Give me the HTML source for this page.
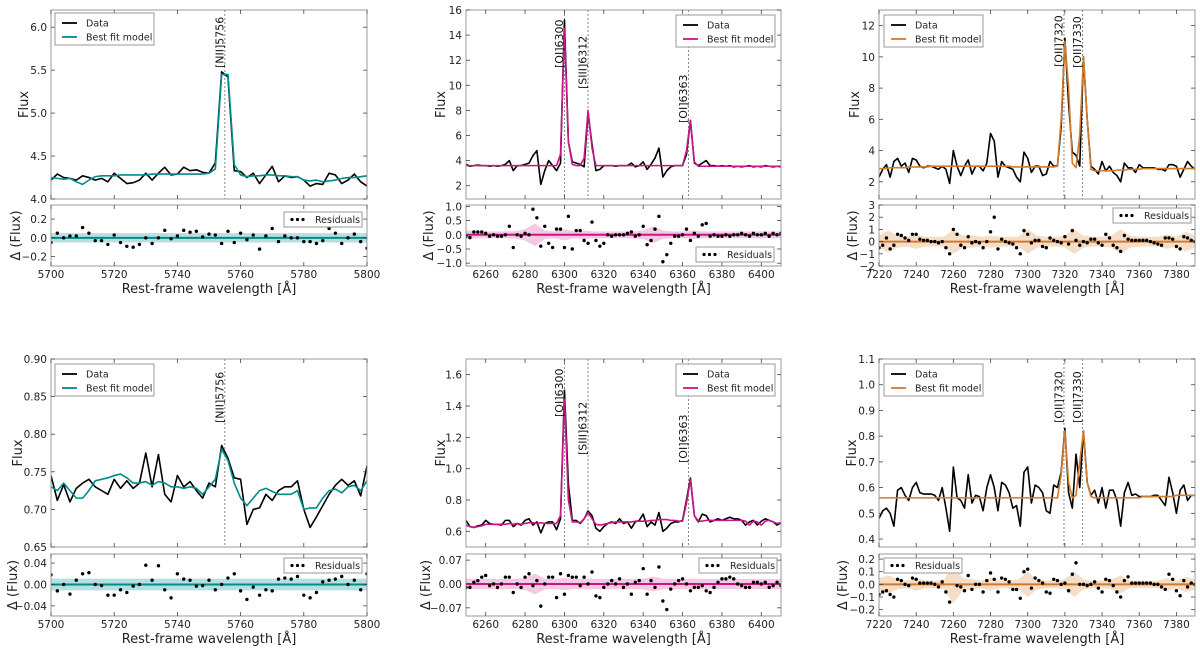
<!DOCTYPE html>
<html><head><meta charset="utf-8"><style>
html,body{margin:0;padding:0;background:#fff;width:1200px;height:648px;overflow:hidden}
svg{display:block;font-family:"DejaVu Sans","Liberation Sans",sans-serif}
</style></head><body>
<svg id="fig" width="1200" height="648" viewBox="0 0 1200 648" xmlns="http://www.w3.org/2000/svg"></svg>
<script>
// ---------- DATA ----------
const p1Data=[4.22,4.29,4.25,4.24,4.22,4.27,4.25,4.22,4.24,4.20,4.30,4.24,4.18,4.19,4.22,4.30,4.22,4.30,4.37,4.28,4.29,4.37,4.33,4.34,4.31,4.30,4.42,5.48,5.42,4.33,4.32,4.25,4.30,4.18,4.28,4.38,4.20,4.27,4.25,4.26,4.22,4.15,4.18,4.17,4.30,4.28,4.18,4.22,4.29,4.20,4.15];
const p1Model=[4.25,4.24,4.23,4.24,4.20,4.17,4.22,4.26,4.27,4.27,4.27,4.28,4.28,4.28,4.28,4.28,4.29,4.29,4.29,4.29,4.29,4.29,4.29,4.29,4.29,4.30,4.35,5.45,5.45,4.40,4.28,4.26,4.27,4.27,4.28,4.28,4.27,4.27,4.26,4.26,4.22,4.21,4.22,4.20,4.21,4.22,4.24,4.25,4.25,4.26,4.27];
const p1Resid=[-0.05,0.05,0.0,0.02,0.02,0.11,0.05,-0.03,-0.03,-0.07,0.03,-0.05,-0.09,-0.1,-0.07,0.0,-0.06,0.0,0.08,-0.01,0.02,0.08,0.06,0.07,0.01,0.04,0.03,-0.06,0.07,-0.05,0.05,-0.02,0.03,-0.12,0.02,0.1,-0.04,0.02,0.0,0.0,-0.04,-0.04,-0.06,-0.03,0.1,0.05,-0.06,0.0,0.04,-0.04,-0.11];
const p1Band=[0.05,0.05,0.05,0.05,0.05,0.05,0.05,0.05,0.05,0.05,0.05];

const p2Data=[3.7,3.55,3.6,3.65,3.6,3.6,3.55,3.6,3.55,3.6,3.7,4.0,3.2,3.6,3.6,3.7,3.8,4.4,4.8,2.1,3.2,4.0,3.6,3.2,3.8,15.2,5.5,3.9,3.8,3.7,3.5,7.8,5.3,3.2,3.3,3.6,3.6,3.6,3.55,3.6,3.6,3.6,3.8,3.5,3.6,3.9,3.3,3.7,4.2,5.0,2.7,3.2,3.5,3.6,3.6,3.6,4.5,7.2,3.8,3.6,3.8,4.0,3.6,3.6,3.55,3.6,3.55,3.6,3.5,3.55,3.5,3.55,3.6,3.5,3.55,3.5,3.6,3.55,3.5,3.55,3.5];
const p2Model=[3.6,3.6,3.6,3.6,3.6,3.6,3.6,3.6,3.6,3.6,3.6,3.6,3.6,3.6,3.6,3.6,3.6,3.6,3.6,3.6,3.6,3.6,3.6,3.6,4.5,14.5,5.5,3.7,3.6,3.6,4.2,8.0,5.0,3.6,3.6,3.6,3.6,3.6,3.6,3.6,3.6,3.6,3.6,3.6,3.6,3.6,3.6,3.6,3.6,3.6,3.6,3.6,3.6,3.6,3.6,3.6,4.8,7.2,3.9,3.55,3.55,3.55,3.55,3.55,3.55,3.55,3.55,3.55,3.55,3.55,3.55,3.55,3.55,3.55,3.55,3.55,3.55,3.55,3.55,3.55,3.55];
const p2Resid=[-0.05,-0.1,0.1,0.1,0.1,0.05,-0.05,0.0,-0.05,-0.05,0.0,0.3,-0.45,0.0,-0.05,0.05,0.0,0.9,0.6,-0.4,0.3,-0.3,-0.45,0.2,0.2,-0.45,0.65,-0.5,0.15,0.15,-0.2,-0.3,0.45,-0.2,-0.4,-0.3,0.0,-0.05,0.0,0.0,0.0,0.05,0.1,-0.05,0.0,0.3,-0.35,-0.2,0.2,0.65,-0.95,-0.7,-0.3,-0.05,-0.05,0.0,0.2,-0.2,0.05,-0.05,0.35,0.4,-0.05,0.0,-0.05,-0.05,0.0,-0.05,0.0,0.0,0.05,0.0,-0.05,0.05,0.0,0.0,0.05,-0.05,0.05,0.0,0.05];
const p2Band=[0.15,0.13,0.12,0.12,0.12,0.13,0.2,0.4,0.15,0.12,0.2,0.12,0.15,0.12,0.12,0.12,0.12,0.12,0.15,0.3,0.15,0.12,0.12,0.15,0.12,0.12,0.12,0.12,0.12,0.12,0.12,0.12,0.12];

const p3Data=[2.3,2.8,3.1,2.3,3.3,3.5,3.0,3.2,2.6,3.5,3.4,3.0,2.9,3.0,3.0,2.9,2.8,3.0,2.8,1.9,4.0,3.0,2.4,3.0,3.4,2.5,3.0,3.0,2.7,3.2,5.1,4.6,2.3,3.3,3.0,2.9,2.8,2.3,2.0,3.9,3.5,2.6,3.0,3.0,2.4,2.5,3.3,3.0,3.0,5.5,11.2,7.0,3.9,3.7,3.0,10.0,6.0,3.0,2.8,2.5,3.3,2.7,3.0,2.6,2.4,2.0,3.2,2.9,2.9,2.6,3.1,2.9,2.9,2.9,2.9,2.8,2.8,2.7,3.1,3.1,3.0,2.3,2.8,3.3,3.0,2.8];
const p3Model=[2.85,2.85,2.85,2.9,2.9,2.9,2.9,2.9,2.95,2.95,2.95,2.95,2.95,2.95,3.0,3.0,3.0,3.0,3.0,3.0,3.0,3.0,3.0,3.0,3.0,3.0,3.0,3.0,3.0,3.0,3.0,3.0,3.0,3.0,3.0,3.0,2.95,2.95,2.95,2.95,2.95,2.95,2.95,2.95,2.95,2.95,2.95,2.95,3.0,6.0,11.0,8.0,3.2,2.9,5.0,10.0,6.0,2.8,2.7,2.7,2.7,2.7,2.7,2.7,2.75,2.75,2.75,2.8,2.8,2.8,2.8,2.85,2.85,2.85,2.85,2.85,2.85,2.85,2.85,2.85,2.85,2.85,2.85,2.85,2.85,2.85];
const p3Resid=[-0.5,-0.3,0.3,-0.6,-0.3,0.6,0.5,0.3,0.1,0.6,0.6,0.2,0.1,0.1,0.0,0.0,-0.1,0.0,-0.5,-1.0,1.0,0.6,-0.3,-0.5,0.4,-0.1,0.0,-0.1,-0.5,0.0,0.8,2.0,-0.6,0.2,0.0,-0.1,-0.2,-0.5,-1.0,0.9,0.6,-0.1,0.1,0.1,-0.4,-0.5,0.3,0.1,0.0,-0.1,0.4,-0.2,0.9,0.1,-0.3,0.0,-0.1,0.2,0.2,-0.1,-0.3,0.6,0.3,-0.3,-0.5,-0.8,0.5,0.2,0.1,0.1,0.1,0.1,0.1,0.0,-0.1,-0.2,-0.3,0.3,0.3,0.2,-0.4,-0.6,0.4,0.3,0.1,0.0];
const p3Band=[0.5,0.9,0.5,0.4,0.6,0.4,0.4,0.4,1.0,0.5,0.5,0.4,0.5,0.4,0.4,0.4,1.0,0.5,0.4,0.4,0.5,1.0,0.5,0.4,0.4,0.5,1.0,0.5,0.4,0.4,0.4,0.6,0.4,0.8,0.5];

const p4Data=[0.745,0.712,0.733,0.71,0.728,0.735,0.74,0.73,0.725,0.72,0.74,0.728,0.738,0.728,0.735,0.775,0.73,0.773,0.72,0.71,0.745,0.73,0.737,0.725,0.715,0.735,0.73,0.785,0.768,0.742,0.74,0.68,0.70,0.702,0.72,0.712,0.725,0.73,0.73,0.738,0.70,0.676,0.69,0.705,0.72,0.732,0.74,0.732,0.738,0.718,0.758];
const p4Model=[0.73,0.725,0.735,0.725,0.715,0.715,0.725,0.738,0.74,0.742,0.745,0.747,0.742,0.735,0.735,0.737,0.732,0.737,0.735,0.73,0.73,0.728,0.73,0.728,0.72,0.73,0.74,0.78,0.765,0.735,0.715,0.705,0.715,0.725,0.728,0.724,0.72,0.72,0.72,0.725,0.70,0.702,0.702,0.715,0.725,0.727,0.722,0.73,0.732,0.725,0.738];
const p4Resid=[0.018,-0.012,0.0,-0.018,0.008,0.02,0.022,0.0,-0.002,-0.02,-0.02,-0.01,-0.015,-0.003,0.0,0.036,0.008,0.035,-0.01,-0.025,0.02,0.01,0.008,-0.003,-0.002,0.008,-0.01,0.0,0.012,0.02,-0.012,-0.028,-0.005,-0.02,-0.01,-0.012,0.01,0.012,0.01,0.015,-0.02,-0.025,-0.015,0.005,0.008,0.01,0.015,0.0,0.008,-0.01,0.02];
const p4Band=[0.011,0.011,0.011,0.011,0.011,0.011,0.011,0.011,0.011,0.011,0.011];

const p5Data=[0.67,0.63,0.625,0.635,0.64,0.67,0.65,0.645,0.645,0.64,0.67,0.67,0.63,0.65,0.64,0.67,0.68,0.64,0.66,0.59,0.65,0.66,0.66,0.61,0.68,1.50,0.90,0.67,0.67,0.65,0.68,0.73,0.70,0.62,0.60,0.63,0.65,0.66,0.65,0.68,0.65,0.66,0.62,0.66,0.67,0.71,0.63,0.66,0.64,0.72,0.60,0.62,0.65,0.66,0.66,0.67,0.80,0.94,0.70,0.66,0.71,0.70,0.66,0.67,0.68,0.67,0.68,0.69,0.68,0.68,0.67,0.64,0.66,0.67,0.64,0.665,0.68,0.67,0.66,0.64,0.655];
const p5Model=[0.64,0.63,0.625,0.63,0.635,0.645,0.645,0.645,0.645,0.645,0.645,0.65,0.645,0.65,0.645,0.65,0.655,0.655,0.65,0.655,0.65,0.65,0.65,0.65,0.70,1.45,0.80,0.66,0.66,0.655,0.68,0.72,0.68,0.645,0.64,0.645,0.65,0.655,0.66,0.66,0.66,0.66,0.66,0.665,0.665,0.665,0.665,0.67,0.67,0.675,0.675,0.675,0.67,0.67,0.665,0.665,0.78,0.93,0.70,0.665,0.665,0.67,0.67,0.67,0.67,0.67,0.67,0.67,0.67,0.67,0.67,0.665,0.64,0.665,0.66,0.64,0.665,0.67,0.66,0.65,0.655];
const p5Resid=[-0.01,-0.01,0.005,0.01,0.02,0.025,-0.005,0.0,-0.01,0.0,0.02,0.02,-0.025,0.0,-0.01,0.02,0.03,-0.005,0.01,-0.065,0.0,0.02,0.02,-0.04,0.03,-0.03,0.025,0.02,0.02,-0.005,0.02,0.0,0.035,-0.035,-0.04,-0.01,0.0,0.01,0.0,0.015,-0.01,0.0,-0.03,0.005,0.01,0.045,-0.03,0.01,-0.01,0.05,-0.05,-0.075,-0.015,0.0,0.01,0.015,0.0,-0.02,-0.01,-0.01,-0.005,-0.02,-0.025,-0.01,0.005,0.015,0.015,0.02,0.015,0.0,-0.005,-0.01,-0.01,0.005,0.005,0.0,0.005,-0.01,-0.005,0.005,-0.005];
const p5Band=[0.016,0.015,0.015,0.015,0.015,0.015,0.018,0.03,0.016,0.015,0.018,0.015,0.016,0.015,0.015,0.015,0.015,0.015,0.016,0.022,0.016,0.015,0.015,0.016,0.015,0.015,0.015,0.015,0.015,0.015,0.015,0.015,0.015];

const p6Data=[0.48,0.51,0.52,0.50,0.45,0.59,0.60,0.57,0.55,0.60,0.62,0.58,0.575,0.575,0.575,0.57,0.55,0.60,0.52,0.43,0.68,0.56,0.55,0.52,0.65,0.54,0.57,0.565,0.51,0.60,0.65,0.60,0.51,0.62,0.61,0.58,0.52,0.53,0.45,0.66,0.68,0.54,0.61,0.60,0.58,0.51,0.50,0.61,0.60,0.66,0.83,0.58,0.52,0.73,0.60,0.82,0.62,0.57,0.59,0.54,0.60,0.52,0.59,0.59,0.55,0.45,0.58,0.62,0.57,0.575,0.565,0.565,0.565,0.565,0.57,0.57,0.55,0.53,0.64,0.58,0.50,0.59,0.61,0.55,0.57,0.57];
const p6Model=[0.56,0.56,0.56,0.56,0.56,0.56,0.56,0.56,0.56,0.56,0.56,0.56,0.56,0.56,0.56,0.56,0.56,0.56,0.56,0.56,0.56,0.56,0.56,0.56,0.56,0.56,0.56,0.56,0.56,0.56,0.56,0.56,0.56,0.56,0.56,0.56,0.56,0.56,0.56,0.56,0.56,0.56,0.56,0.56,0.56,0.56,0.56,0.56,0.56,0.65,0.82,0.62,0.56,0.57,0.70,0.82,0.62,0.565,0.56,0.56,0.56,0.56,0.56,0.56,0.56,0.56,0.56,0.56,0.56,0.56,0.56,0.565,0.565,0.565,0.565,0.565,0.565,0.565,0.565,0.565,0.57,0.57,0.57,0.57,0.57,0.57];
const p6Resid=[-0.08,-0.06,-0.05,-0.08,-0.1,0.04,0.03,0.0,-0.01,0.05,0.04,0.01,0.01,0.01,0.01,0.0,-0.02,0.02,-0.06,-0.14,0.1,-0.01,-0.02,-0.05,0.07,-0.04,0.0,0.0,-0.06,0.03,0.09,0.04,-0.06,0.05,0.04,0.02,-0.04,-0.04,-0.11,0.1,0.12,-0.03,0.05,0.03,0.01,-0.06,-0.07,0.04,0.03,0.0,0.01,-0.05,0.08,0.17,0.0,0.0,-0.01,0.0,0.02,-0.03,-0.06,0.04,0.03,-0.01,-0.06,-0.1,0.03,0.06,0.01,0.01,0.01,0.01,0.01,0.01,0.0,0.0,-0.02,-0.04,0.08,0.04,-0.05,-0.09,0.03,-0.02,0.01,0.0];
const p6Band=[0.05,0.07,0.04,0.03,0.05,0.03,0.03,0.04,0.15,0.05,0.04,0.03,0.05,0.03,0.03,0.04,0.1,0.04,0.03,0.03,0.04,0.1,0.04,0.03,0.03,0.04,0.07,0.03,0.03,0.03,0.03,0.05,0.03,0.06,0.04];

const lines12=[{name:"[NII]5756",w:5755}];
const lines25=[{name:"[OI]6300",w:6300},{name:"[SIII]6312",w:6312},{name:"[OI]6363",w:6363}];
const lines36=[{name:"[OII]7320",w:7319.5},{name:"[OII]7330",w:7329.5}];

const xt1=[5700,5720,5740,5760,5780,5800];
const xt2=[6260,6280,6300,6320,6340,6360,6380,6400];
const xt3=[7220,7240,7260,7280,7300,7320,7340,7360,7380];

// ---------- LAYOUT ----------
const NS="http://www.w3.org/2000/svg";
const svg=document.getElementById('fig');
function mk(tag,attrs,parent){const e=document.createElementNS(NS,tag);for(const k in attrs)e.setAttribute(k,attrs[k]);(parent||svg).appendChild(e);return e;}
function fmt(v,d){const s=Math.abs(v).toFixed(d);return (v<-1e-9?"\u2212":"")+s;}

const panels=[
 {id:"p1",x0:51,x1:367,m:[10,199],r:[205,266],wx:[5700,5800],step:2,ylim:[4.0,6.2],yt:[4.0,4.5,5.0,5.5,6.0],yd:1,rlim:[-0.3,0.35],rt:[-0.2,0,0.2],rd:1,bandStep:10,xt:xt1,col:"#008b8b",band:"#9fd4d4",data:p1Data,model:p1Model,res:p1Resid,bw:p1Band,lines:lines12,lb:[68],leg:[55,13],rleg:[284,212],fX:28,rX:20},
 {id:"p2",x0:466,x1:781,m:[10,199],r:[205,266],wx:[6250,6410],step:2,ylim:[0.94,16],yt:[2,4,6,8,10,12,14,16],yd:0,rlim:[-1.1,1.05],rt:[-1,-0.5,0,0.5,1],rd:1,bandStep:5,xt:xt2,col:"#cc1488",band:"#f0b8d8",data:p2Data,model:p2Model,res:p2Resid,bw:p2Band,lines:lines25,lb:[68,89,123],leg:[676,15],rleg:[696,247],fX:445,rX:433},
 {id:"p3",x0:879,x1:1195,m:[10,199],r:[205,266],wx:[7220,7390],step:2,ylim:[0.9,13],yt:[2,4,6,8,10,12],yd:0,rlim:[-2,3],rt:[-2,-1,0,1,2,3],rd:0,bandStep:5,xt:xt3,col:"#d27a2c",band:"#f1d3b6",data:p3Data,model:p3Model,res:p3Resid,bw:p3Band,lines:lines36,lb:[67,68],leg:[884,15],rleg:[1113,208],fX:859,rX:857},
 {id:"p4",x0:51,x1:367,m:[359,547],r:[554,616],wx:[5700,5800],step:2,ylim:[0.65,0.90],yt:[0.65,0.70,0.75,0.80,0.85,0.90],yd:2,rlim:[-0.059,0.057],rt:[-0.04,0,0.04],rd:2,bandStep:10,xt:xt1,col:"#008b8b",band:"#9fd4d4",data:p4Data,model:p4Model,res:p4Resid,bw:p4Band,lines:lines12,lb:[423],leg:[55,364],rleg:[284,558],fX:22,rX:17},
 {id:"p5",x0:466,x1:781,m:[359,547],r:[554,616],wx:[6250,6410],step:2,ylim:[0.5,1.70],yt:[0.6,0.8,1.0,1.2,1.4,1.6],yd:1,rlim:[-0.094,0.088],rt:[-0.07,0,0.07],rd:2,bandStep:5,xt:xt2,col:"#cc1488",band:"#f0b8d8",data:p5Data,model:p5Model,res:p5Resid,bw:p5Band,lines:lines25,lb:[417,455,463],leg:[676,364],rleg:[699,558],fX:445,rX:430},
 {id:"p6",x0:879,x1:1195,m:[359,547],r:[554,616],wx:[7220,7390],step:2,ylim:[0.369,1.1],yt:[0.4,0.5,0.6,0.7,0.8,0.9,1.0,1.1],yd:1,rlim:[-0.25,0.24],rt:[-0.2,-0.1,0,0.1,0.2],rd:1,bandStep:5,xt:xt3,col:"#d27a2c",band:"#f1d3b6",data:p6Data,model:p6Model,res:p6Resid,bw:p6Band,lines:lines36,lb:[423,423],leg:[884,364],rleg:[884,558],fX:856,rX:847}
];

const TF=10.5;
function ticks(g,P,yr,lim,vals,dec,xTicks){
  const sy=v=>yr[1]-(v-lim[0])/(lim[1]-lim[0])*(yr[1]-yr[0]);
  vals.forEach(v=>{const y=sy(v);
    mk('line',{x1:P.x0,x2:P.x0+4,y1:y,y2:y,stroke:"#444","stroke-width":0.8},g);
    mk('line',{x1:P.x1,x2:P.x1-4,y1:y,y2:y,stroke:"#444","stroke-width":0.8},g);
    const t=mk('text',{x:P.x0-4,y:y+4,"text-anchor":"end","font-size":TF,fill:"#222"},g);t.textContent=fmt(v,dec);
  });
  xTicks.forEach(w=>{const x=P.sx(w);
    mk('line',{x1:x,x2:x,y1:yr[1],y2:yr[1]-4,stroke:"#444","stroke-width":0.8},g);
    mk('line',{x1:x,x2:x,y1:yr[0],y2:yr[0]+4,stroke:"#444","stroke-width":0.8},g);
  });
}

panels.forEach(P=>{
  P.sx=w=>P.x0+(w-P.wx[0])/(P.wx[1]-P.wx[0])*(P.x1-P.x0);
  const sy=v=>P.m[1]-(v-P.ylim[0])/(P.ylim[1]-P.ylim[0])*(P.m[1]-P.m[0]);
  const sr=v=>P.r[1]-(v-P.rlim[0])/(P.rlim[1]-P.rlim[0])*(P.r[1]-P.r[0]);
  const g=mk('g',{});
  
  
  const clipM='cm'+P.id, clipR='cr'+P.id;
  const defs=mk('defs',{},g);
  const c1=mk('clipPath',{id:clipM},defs);mk('rect',{x:P.x0,y:P.m[0],width:P.x1-P.x0,height:P.m[1]-P.m[0]},c1);
  const c2=mk('clipPath',{id:clipR},defs);mk('rect',{x:P.x0,y:P.r[0],width:P.x1-P.x0,height:P.r[1]-P.r[0]},c2);

  const mg=mk('g',{"clip-path":`url(#${clipM})`},g);
  
  
  P.lines.forEach(L=>{const x=P.sx(L.w);
    const dl=mk('line',{x1:x,x2:x,y1:P.m[0],y2:P.m[1],stroke:"#888","stroke-width":1,"stroke-dasharray":"2,2"},mg);
    
    
  });
  const path=(arr,f)=>arr.map((v,i)=>(i?'L':'M')+P.sx(P.wx[0]+i*P.step).toFixed(2)+','+f(v).toFixed(2)).join('');
  const dp=mk('path',{d:path(P.data,sy),fill:"none",stroke:"#000","stroke-width":1.6,"stroke-linejoin":"round"},mg);
  
  
  const mp=mk('path',{d:path(P.model,sy),fill:"none",stroke:P.col,"stroke-width":1.6,"stroke-linejoin":"round"},mg);
  
  

  const rg=mk('g',{"clip-path":`url(#${clipR})`},g);
  
  
  const up=P.bw.map((b,i)=>P.sx(P.wx[0]+i*P.bandStep).toFixed(2)+','+sr(b).toFixed(2));
  const dn=P.bw.map((b,i)=>P.sx(P.wx[0]+i*P.bandStep).toFixed(2)+','+sr(-b).toFixed(2)).reverse();
  const bp=mk('polygon',{points:up.concat(dn).join(' '),fill:P.band,"fill-opacity":0.75},rg);
  
  
  const zl=mk('line',{x1:P.x0,x2:P.x1,y1:sr(0),y2:sr(0),stroke:P.col,"stroke-width":2},rg);
  
  
  P.res.forEach((v,i)=>{const c=mk('circle',{cx:P.sx(P.wx[0]+i*P.step),cy:sr(v),r:1.7,fill:"#000"},rg);
    
    });

  mk('rect',{x:P.x0,y:P.m[0],width:P.x1-P.x0,height:P.m[1]-P.m[0],fill:"none",stroke:"#999","stroke-width":1},g);
  mk('rect',{x:P.x0,y:P.r[0],width:P.x1-P.x0,height:P.r[1]-P.r[0],fill:"none",stroke:"#999","stroke-width":1},g);
  ticks(g,P,P.m,P.ylim,P.yt,P.yd,P.xt);
  ticks(g,P,P.r,P.rlim,P.rt,P.rd,P.xt);
  P.xt.forEach(w=>{const t=mk('text',{x:P.sx(w),y:P.r[1]+12,"text-anchor":"middle","font-size":TF,fill:"#222"},g);t.textContent=w;
    });

  const xl=mk('text',{x:(P.x0+P.x1)/2,y:P.r[1]+27,"text-anchor":"middle","font-size":13,fill:"#222"},g);
  xl.textContent="Rest-frame wavelength [Å]";
  
  const yl=mk('text',{transform:`translate(${P.fX},${(P.m[0]+P.m[1])/2}) rotate(-90)`,"text-anchor":"middle","font-size":13,fill:"#222"},g);
  yl.textContent="Flux";
  
  const rl=mk('text',{transform:`translate(${P.rX},${(P.r[0]+P.r[1])/2}) rotate(-90)`,"text-anchor":"middle","font-size":13,fill:"#222"},g);
  rl.textContent="Δ (Flux)";
  

  P.lines.forEach((L,k)=>{const x=P.sx(L.w);
    const t=mk('text',{transform:`translate(${x-1.5},${P.lb[k]}) rotate(-90)`,"font-size":11,fill:"#111"},g);
    t.textContent=L.name;
    });

  const lg=mk('g',{},g);
  
  const [lx,ly]=P.leg;
  mk('rect',{x:lx,y:ly,width:99,height:32,fill:"#fff",stroke:"#999","stroke-width":1},lg);
  mk('line',{x1:lx+7,x2:lx+22,y1:ly+10,y2:ly+10,stroke:"#000","stroke-width":1.8},lg);
  mk('line',{x1:lx+7,x2:lx+22,y1:ly+24,y2:ly+24,stroke:P.col,"stroke-width":1.8},lg);
  let t=mk('text',{x:lx+31,y:ly+13.5,"font-size":9.5,fill:"#222"},lg);t.textContent="Data";
  t=mk('text',{x:lx+31,y:ly+27.5,"font-size":9.5,fill:"#222"},lg);t.textContent="Best fit model";
  const rgl=mk('g',{},g);
  
  const [rx,ry]=P.rleg;
  mk('rect',{x:rx,y:ry,width:78,height:15,fill:"#fff",stroke:"#999","stroke-width":1},rgl);
  [0,1,2].forEach(i=>mk('circle',{cx:rx+8+i*5.5,cy:ry+7.5,r:1.6,fill:"#000"},rgl));
  t=mk('text',{x:rx+31,y:ry+11,"font-size":9.5,fill:"#222"},rgl);t.textContent="Residuals";
});
</script>
</body></html>
